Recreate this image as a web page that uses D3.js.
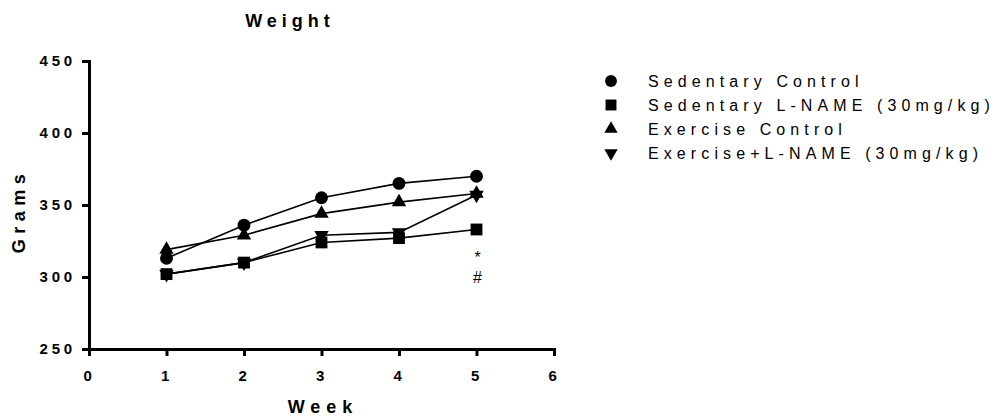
<!DOCTYPE html>
<html>
<head>
<meta charset="utf-8">
<script src="https://cdn.jsdelivr.net/npm/d3@7/dist/d3.min.js"></script>
<style>
  html, body { margin: 0; padding: 0; background: #fff; }
  svg { display: block; }
  text { font-family: "Liberation Sans", Arial, sans-serif; fill: #000; }
</style>
</head>
<body>
<svg id="chart" width="999" height="416"></svg>
<script>
// Body weight per week for the four groups
const weeks = [1, 2, 3, 4, 5];
const sedentaryControl = [313, 336, 355, 365, 370];
const sedentaryLName   = [302, 310, 324, 327, 333];
const exerciseControl  = [319, 329, 344, 352, 358];
const exerciseLName    = [302, 310, 329, 331, 357];

const seriesNames = [
  "Sedentary Control",
  "Sedentary L-NAME (30mg/kg)",
  "Exercise Control",
  "Exercise+L-NAME (30mg/kg)"
];
const xTicks = [0, 1, 2, 3, 4, 5, 6];
const yTicks = [250, 300, 350, 400, 450];

const svg = d3.select("#chart");

const x = d3.scaleLinear().domain([0, 6]).range([89, 554]);
const y = d3.scaleLinear().domain([250, 450]).range([349, 61]);

// marker shapes: circle, square, up triangle, down triangle
const shapes = [
  { type: d3.symbolCircle,   size: 130, rot: 0 },
  { type: d3.symbolSquare,   size: 140, rot: 0 },
  { type: d3.symbolTriangle, size: 90,  rot: 0 },
  { type: d3.symbolTriangle, size: 90,  rot: 180 }
];

const series = [sedentaryControl, sedentaryLName, exerciseControl, exerciseLName]
  .map((vals, i) => ({ name: seriesNames[i], shape: shapes[i],
                        points: weeks.map((w, j) => ({ w, v: vals[j] })) }));

// Axes
const yAxis = svg.append("g")
  .attr("transform", `translate(${x(0)},0)`)
  .call(d3.axisLeft(y).tickValues(yTicks).tickFormat(d3.format("d"))
    .tickSize(7).tickSizeOuter(0).tickPadding(6));
const xAxis = svg.append("g")
  .attr("transform", `translate(0,${y(250)})`)
  .call(d3.axisBottom(x).tickValues(xTicks).tickFormat(d3.format("d"))
    .tickSize(7).tickSizeOuter(0).tickPadding(14));

[yAxis, xAxis].forEach(g => {
  g.select(".domain").attr("stroke", "#000").attr("stroke-width", 3)
    .attr("stroke-linecap", "square");
  g.selectAll(".tick line").attr("stroke", "#000").attr("stroke-width", 3);
  g.selectAll(".tick text")
    .attr("font-family", "Liberation Sans, Arial, sans-serif")
    .attr("font-size", 15).attr("font-weight", "bold")
    .style("letter-spacing", "3.8px").attr("fill", "#000");
});

// Lines
const line = d3.line().x(d => x(d.w)).y(d => y(d.v));
svg.append("g").selectAll("path")
  .data(series)
  .join("path")
  .attr("d", d => line(d.points))
  .attr("fill", "none")
  .attr("stroke", "#000")
  .attr("stroke-width", 1.6);

// Markers
series.forEach(s => {
  const sym = d3.symbol().type(s.shape.type).size(s.shape.size);
  svg.append("g").selectAll("path")
    .data(s.points)
    .join("path")
    .attr("d", sym)
    .attr("transform", d => `translate(${x(d.w)},${y(d.v)}) rotate(${s.shape.rot})`)
    .attr("fill", "#000");
});

// Significance marks at week 5
svg.append("text").attr("x", x(5) + 1).attr("y", 263)
  .attr("text-anchor", "middle").attr("font-size", 16).text("*");
svg.append("text").attr("x", x(5) + 1).attr("y", 283)
  .attr("text-anchor", "middle").attr("font-size", 16).text("#");

// Title and axis labels
svg.append("text").attr("x", 290).attr("y", 27)
  .attr("text-anchor", "middle").attr("font-size", 18).attr("font-weight", "bold")
  .style("letter-spacing", "5px").text("Weight");
svg.append("text").attr("x", 323).attr("y", 413)
  .attr("text-anchor", "middle").attr("font-size", 18).attr("font-weight", "bold")
  .style("letter-spacing", "6px").text("Week");
svg.append("text").attr("transform", "translate(25,211) rotate(-90)")
  .attr("text-anchor", "middle").attr("font-size", 18).attr("font-weight", "bold")
  .style("letter-spacing", "5.5px").text("Grams");

// Legend
const legend = svg.append("g").attr("transform", "translate(611,81)");
series.forEach((s, i) => {
  const row = legend.append("g").attr("transform", `translate(0,${i * 24})`);
  row.append("path")
    .attr("d", d3.symbol().type(s.shape.type).size(s.shape.size * 0.85)())
    .attr("transform", `rotate(${s.shape.rot})`)
    .attr("fill", "#000");
  row.append("text").attr("x", 37).attr("y", 6)
    .attr("font-size", 16).style("letter-spacing", "5.1px").text(s.name);
});
</script>
</body>
</html>
